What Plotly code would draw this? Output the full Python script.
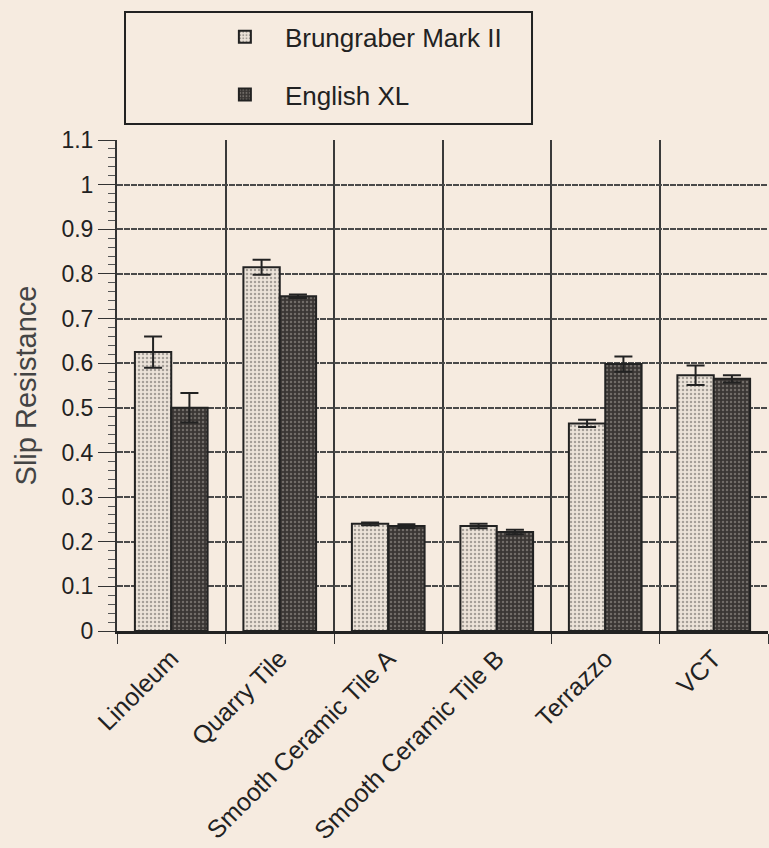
import plotly.graph_objects as go

categories = ["Linoleum", "Quarry Tile", "Smooth Ceramic Tile A",
              "Smooth Ceramic Tile B", "Terrazzo", "VCT"]
brungraber = [0.625, 0.815, 0.240, 0.235, 0.465, 0.573]
brungraber_err = [0.035, 0.017, 0.003, 0.005, 0.008, 0.022]
english = [0.500, 0.750, 0.235, 0.222, 0.598, 0.565]
english_err = [0.033, 0.004, 0.004, 0.005, 0.017, 0.008]
y_ticks = [0, 0.1, 0.2, 0.3, 0.4, 0.5, 0.6, 0.7, 0.8, 0.9, 1, 1.1]
y_tick_text = ["0", "0.1", "0.2", "0.3", "0.4", "0.5", "0.6", "0.7", "0.8", "0.9", "1", "1.1"]

BG = "#f6ebe0"
FONT = "Liberation Sans, Arial, Helvetica, sans-serif"

fig = go.Figure()
fig.add_trace(go.Bar(
    name="Brungraber Mark II", x=categories, y=brungraber,
    legendgroup="a",
    error_y=dict(type="data", array=brungraber_err, visible=True,
                 color="#222", thickness=2, width=9),
    marker=dict(color="#e6ddd3", line=dict(color="#222", width=2),
                pattern=dict(shape=".", fgcolor="#5e5a56", bgcolor="#ece3d9",
                             size=4, solidity=0.3, fillmode="overlay")),
))
fig.add_trace(go.Bar(
    name="English XL", x=categories, y=english,
    legendgroup="b",
    error_y=dict(type="data", array=english_err, visible=True,
                 color="#222", thickness=2, width=9),
    marker=dict(color="#3e3a38", line=dict(color="#222", width=2),
                pattern=dict(shape=".", fgcolor="#a8a19b", bgcolor="#3a3634",
                             size=4, solidity=0.3, fillmode="overlay")),
))

fig.update_layout(
    width=769, height=848,
    paper_bgcolor=BG, plot_bgcolor=BG,
    margin=dict(l=117, r=1, t=140, b=217),
    barmode="group", bargap=0.33, bargroupgap=0,
    font=dict(family=FONT, size=23, color="#222"),
    legend=dict(x=0.135, y=1.258, xanchor="left", yanchor="top",
                bgcolor="rgba(0,0,0,0)", borderwidth=0,
                font=dict(size=26, color="#222"),
                traceorder="grouped", tracegroupgap=21, itemwidth=70),
    shapes=[dict(type="rect", xref="paper", yref="paper",
                 x0=0.0123, x1=0.6375, y0=1.0326, y1=1.2607,
                 line=dict(color="#222", width=2), fillcolor="rgba(0,0,0,0)")],
)

fig.update_xaxes(
    type="category", tickson="boundaries", ticks="outside", ticklen=10,
    tickcolor="#333", tickwidth=1,
    showgrid=True, gridcolor="#3a3a3a", gridwidth=1.6,
    showline=True, linecolor="#222", linewidth=3,
    tickangle=-45, tickfont=dict(size=25, color="#222"),
    range=[-0.5, 5.5],
)
fig.update_yaxes(
    range=[0, 1.1], tickvals=y_ticks, ticktext=y_tick_text,
    ticks="outside", ticklen=17, tickcolor="#333", tickwidth=1,
    showgrid=True, gridcolor="#4a4a4a", gridwidth=1.5, griddash="6px,1px",
    showline=True, linecolor="#333", linewidth=2,
    zeroline=False,
    minor=dict(dtick=0.02, ticks="outside", ticklen=7, tickcolor="#555",
               showgrid=False),
    tickfont=dict(size=23, color="#222"),
    title=dict(text="Slip Resistance", font=dict(size=29, color="#444"),
               standoff=16),
)

fig.write_html("out.html")
